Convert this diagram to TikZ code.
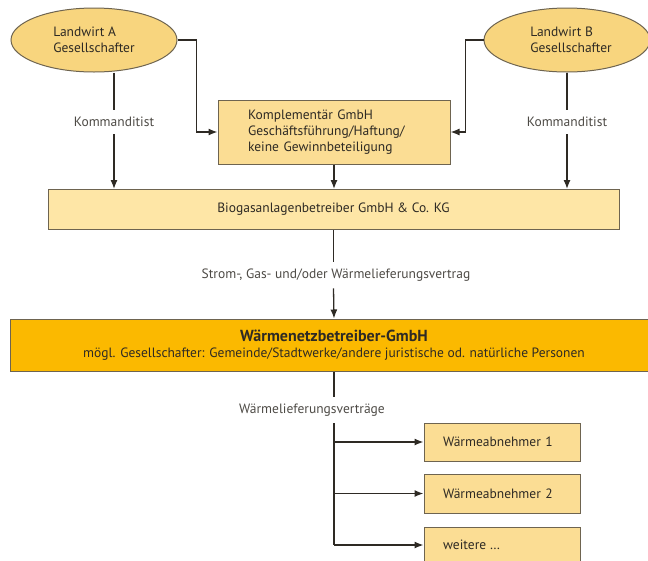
\documentclass[tikz,border=0pt]{standalone}
\usepackage{fontspec}
\setmainfont{PT Sans}
\usepackage{tikz}
\usetikzlibrary{positioning, arrows.meta, calc, shapes.geometric}
\definecolor{bgInk}{HTML}{2E2A24}
\definecolor{bgEdge}{HTML}{6E6450}
\definecolor{bgOval}{HTML}{F8D57E}
\definecolor{bgBox}{HTML}{FBDD94}
\definecolor{bgLight}{HTML}{FEE6A6}
\definecolor{bgStrong}{HTML}{FBB900}
\tikzset{
  oval/.style ={ellipse, draw=bgEdge, fill=bgOval, line width=1pt, minimum width=166, minimum height=64, inner sep=0pt, align=left, text=bgInk},
  box/.style  ={draw=bgEdge, fill=bgBox, line width=1pt, align=left, inner sep=0pt, text=bgInk},
  lbl/.style  ={align=center, inner sep=7pt, text=bgInk!85},
  arr/.style  ={-{Latex[length=9pt,width=7pt]}, line width=1.3pt, bgInk},
  ln/.style   ={line width=1.3pt, bgInk},
}
\begin{document}
\begin{tikzpicture}[x=1pt, y=-1pt, font=\fontsize{13.5}{16}\selectfont]
\useasboundingbox (0,0) rectangle (648,560);
\clip (0,0) rectangle (648,560);

% shareholders
\node[oval] (la) at (94,40)  {Landwirt A\\Gesellschafter};
\node[oval] (lb) at (567,40) {\hspace*{8pt}Landwirt B\\\hspace*{8pt}Gesellschafter};

% general partner
\node[box, minimum height=64, text width=172, inner xsep=30pt] (komp) at (334,132)
  {Komplementär GmbH\\Geschäftsführung/Haftung/\\keine Gewinnbeteiligung};

% plant operator
\node[box, fill=bgLight, minimum width=571, minimum height=40, align=center] (bio) at (333.5,209.5)
  {Biogasanlagenbetreiber GmbH \& Co. KG};

% heat network operator
\node[box, fill=bgStrong, minimum width=648, minimum height=52, align=center] (wn) at (334,345)
  {{\fontsize{16}{19}\selectfont\bfseries Wärmenetzbetreiber-GmbH}\\
   mögl. Gesellschafter: Gemeinde/Stadtwerke/andere juristische od. natürliche Personen};

% customers
\node[box, minimum width=156, minimum height=38, text width=118, inner xsep=19pt] (ab1) at (502,442) {Wärmeabnehmer 1};
\node[box, minimum width=156, minimum height=39, text width=118, inner xsep=19pt] (ab2) at (502,493.5) {Wärmeabnehmer 2};
\node[box, minimum width=156, minimum height=39, text width=118, inner xsep=19pt, anchor=north] (ab3) at (502,527) {};
\node[text=bgInk, anchor=west, inner sep=0pt] (ab3t) at (443,545) {weitere …};

% labels on the connectors
\node[lbl] (ka) at (114,122) {Kommanditist};
\node[lbl] (kb) at (567,122) {Kommanditist};
\node[lbl] (svt) at (336,275) {Strom-, Gas- und/oder Wärmelieferungsvertrag};
\node[lbl] (wlv) at (312,410) {Wärmelieferungsverträge};

% connectors
\draw[arr] (la.east) -- ++(19,0) |- (komp.west);
\draw[arr] (lb.west) -- ++(-18,0) |- (komp.east);
\draw[ln]  (ka.north |- la.south) -- (ka.north);
\draw[arr] (ka.south) -- (ka.south |- bio.north);
\draw[ln]  (kb.north |- lb.south) -- (kb.north);
\draw[arr] (kb.south) -- (kb.south |- bio.north);
\draw[arr] (komp.south) -- (komp.south |- bio.north);
\draw[ln]  (bio.south) -- (bio.south |- svt.north);
\draw[arr] (bio.south |- svt.south) -- (wn.north);
\draw[ln]  (wn.south) -- (wn.south |- wlv.north);
\draw[ln]  (wn.south |- wlv.south) -- (wn.south |- ab3t.west);
\foreach \n in {ab1,ab2}{\draw[arr] (wn.south |- \n.west) -- (\n.west);}
\draw[arr] (wn.south |- ab3t.west) -- (ab3.west |- ab3t.west);
\end{tikzpicture}
\end{document}
